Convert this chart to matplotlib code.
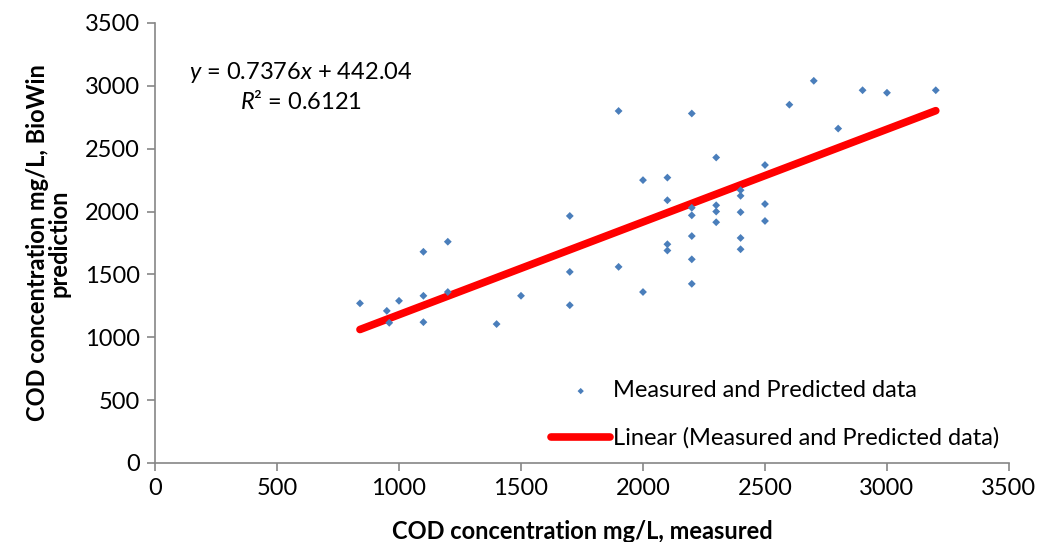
import matplotlib.pyplot as plt
import numpy as np

# measured vs BioWin predicted COD (mg/L)
measured = [840, 950, 960, 1000, 1100, 1100, 1100, 1200, 1200, 1400, 1500,
            1700, 1700, 1700, 1900, 1900, 2000, 2000, 2100, 2100, 2100, 2100,
            2200, 2200, 2200, 2200, 2200, 2200, 2300, 2300, 2300, 2300,
            2400, 2400, 2400, 2400, 2400, 2500, 2500, 2500, 2600, 2700,
            2800, 2900, 3000, 3200]
predicted = [1270, 1210, 1115, 1290, 1330, 1680, 1120, 1760, 1360, 1105, 1330,
             1965, 1520, 1255, 2800, 1560, 2250, 1360, 2270, 2090, 1740, 1690,
             2780, 2030, 1970, 1805, 1620, 1425, 2430, 2050, 2000, 1915,
             2170, 2125, 1995, 1790, 1700, 2370, 2060, 1925, 2850, 3040,
             2660, 2965, 2945, 2965]

# trendline from the chart
slope = 0.7376
intercept = 442.04
r2 = 0.6121

ticks = [0, 500, 1000, 1500, 2000, 2500, 3000, 3500]

plt.rcParams['font.family'] = ['Lato', 'DejaVu Sans']
plt.rcParams['mathtext.fontset'] = 'custom'
plt.rcParams['mathtext.it'] = 'Lato:italic'
plt.rcParams['mathtext.rm'] = 'Lato'

fig = plt.figure(figsize=(10.39, 5.42), dpi=100)
ax = fig.add_axes([0.1492, 0.1458, 0.8219, 0.8118])

ax.scatter(measured, predicted, marker='D', s=16, color='#4a7ebb',
           edgecolors='none', label='Measured and Predicted data', zorder=3)

xs = np.array([min(measured), max(measured)])
ax.plot(xs, slope * xs + intercept, color='#ff0000', linewidth=5.5,
        solid_capstyle='round', label='Linear (Measured and Predicted data)', zorder=2)

ax.set_xlim(0, 3500)
ax.set_ylim(0, 3500)
ax.set_xticks(ticks)
ax.set_yticks(ticks)
ax.tick_params(labelsize=17, color='#868686', length=6, width=1.2, pad=5)
for side in ['top', 'right']:
    ax.spines[side].set_visible(False)
for side in ['left', 'bottom']:
    ax.spines[side].set_color('#868686')
    ax.spines[side].set_linewidth(1.2)

ax.set_xlabel('COD concentration mg/L, measured', fontsize=17, fontweight='bold', labelpad=15)
ax.set_ylabel('COD concentration mg/L, BioWin\nprediction', fontsize=17,
              fontweight='bold', labelpad=10, linespacing=0.95)

ax.text(598, 3110, r'$y$ = 0.7376$x$ + 442.04', fontsize=17, ha='center', va='center')
ax.text(598, 2872, r'$R$² = ' + str(r2), fontsize=17, ha='center', va='center')

ax.legend(loc='lower right', bbox_to_anchor=(1.013, -0.016), frameon=False, fontsize=17,
          handlelength=2.5, handletextpad=0.1, labelspacing=1.1, markerscale=0.8)

fig.savefig('out.png', dpi=100)
